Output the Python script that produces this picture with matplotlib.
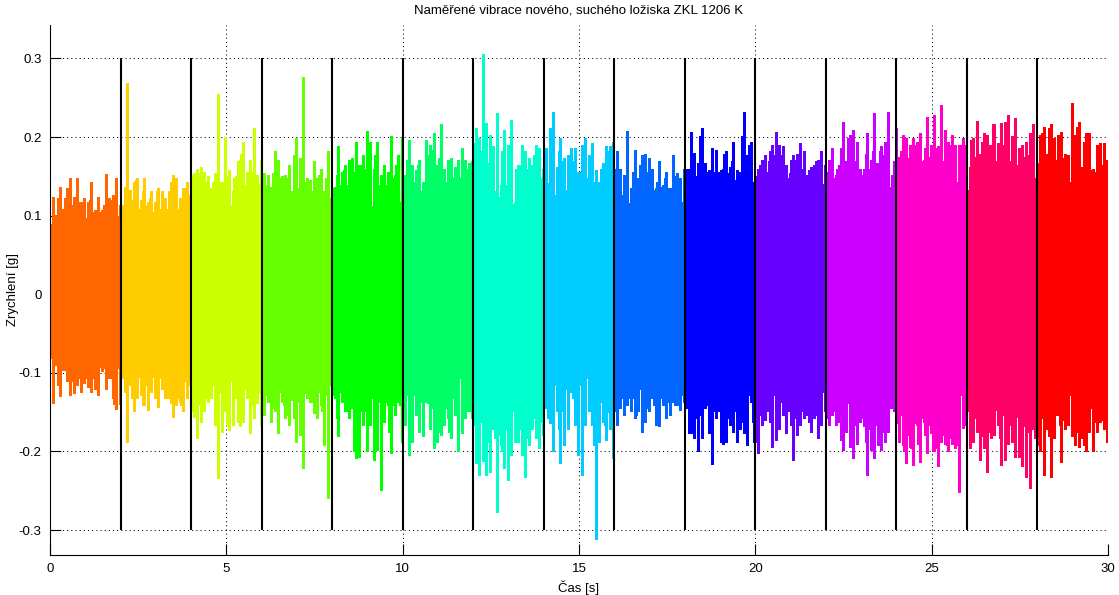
import numpy as np
import matplotlib
matplotlib.use("Agg")
import matplotlib.pyplot as plt

plt.rcParams['font.family'] = ['Liberation Sans', 'DejaVu Sans']

# ---- data ----
title = "Naměřené vibrace nového, suchého ložiska ZKL 1206 K"
xlabel = "Čas [s]"
ylabel = "Zrychlení [g]"

segment_length = 2.0          # s, each recording segment
sample_step = 0.1             # s, spacing of the read envelope values
boundaries = [2, 4, 6, 8, 10, 12, 14, 16, 18, 20, 22, 24, 26, 28]

seg_colors = ['#FF6600', '#FFCC00', '#CCFF00', '#66FF00', '#00FF00',
              '#00FF66', '#00FFCC', '#00CCFF', '#0066FF', '#0000FF',
              '#6600FF', '#CC00FF', '#FF00CC', '#FF0066', '#FF0000']

# dense (solid) band of each segment
core_top = [0.082, 0.090, 0.102, 0.110, 0.112, 0.117, 0.115, 0.117, 0.115, 0.115,
            0.125, 0.131, 0.135, 0.133, 0.135]
core_bot = [-0.076, -0.088, -0.102, -0.105, -0.105, -0.108, -0.112, -0.108, -0.106, -0.110,
            -0.119, -0.125, -0.129, -0.129, -0.129]

# highest positive peak in each 0.1 s interval, per segment
upper = [
    [0.124, 0.101, 0.137, 0.109, 0.135, 0.148, 0.124, 0.148, 0.118, 0.122,
     0.118, 0.143, 0.107, 0.124, 0.107, 0.153, 0.122, 0.126, 0.148, 0.114],
    [0.114, 0.269, 0.133, 0.143, 0.148, 0.120, 0.148, 0.118, 0.131, 0.118,
     0.135, 0.131, 0.122, 0.131, 0.152, 0.148, 0.122, 0.135, 0.143, 0.126],
    [0.154, 0.160, 0.162, 0.156, 0.150, 0.135, 0.154, 0.255, 0.143, 0.200,
     0.158, 0.131, 0.150, 0.171, 0.194, 0.156, 0.171, 0.211, 0.152, 0.171],
    [0.154, 0.152, 0.137, 0.182, 0.171, 0.150, 0.152, 0.165, 0.131, 0.199,
     0.173, 0.277, 0.148, 0.145, 0.169, 0.148, 0.160, 0.131, 0.182, 0.122],
    [0.137, 0.188, 0.156, 0.165, 0.171, 0.173, 0.194, 0.165, 0.177, 0.208,
     0.194, 0.160, 0.194, 0.152, 0.165, 0.156, 0.201, 0.152, 0.177, 0.199],
    [0.152, 0.196, 0.165, 0.158, 0.171, 0.143, 0.196, 0.190, 0.205, 0.165,
     0.217, 0.160, 0.171, 0.173, 0.162, 0.171, 0.186, 0.171, 0.167, 0.169],
    [0.211, 0.199, 0.306, 0.218, 0.203, 0.188, 0.230, 0.139, 0.209, 0.190,
     0.222, 0.118, 0.165, 0.190, 0.182, 0.173, 0.165, 0.190, 0.186, 0.160],
    [0.186, 0.211, 0.232, 0.162, 0.199, 0.173, 0.177, 0.186, 0.186, 0.156,
     0.190, 0.199, 0.177, 0.192, 0.158, 0.143, 0.167, 0.188, 0.188, 0.194],
    [0.182, 0.160, 0.152, 0.208, 0.135, 0.184, 0.148, 0.177, 0.179, 0.173,
     0.160, 0.135, 0.169, 0.139, 0.156, 0.135, 0.177, 0.154, 0.148, 0.160],
    [0.160, 0.207, 0.180, 0.167, 0.211, 0.167, 0.158, 0.186, 0.184, 0.156,
     0.160, 0.182, 0.162, 0.194, 0.158, 0.156, 0.232, 0.177, 0.194, 0.143],
    [0.160, 0.171, 0.177, 0.169, 0.190, 0.207, 0.190, 0.188, 0.165, 0.154,
     0.177, 0.179, 0.192, 0.182, 0.152, 0.162, 0.165, 0.171, 0.182, 0.165],
    [0.171, 0.186, 0.152, 0.165, 0.219, 0.169, 0.203, 0.209, 0.194, 0.160,
     0.160, 0.205, 0.171, 0.230, 0.167, 0.188, 0.194, 0.232, 0.152, 0.211],
    [0.175, 0.203, 0.199, 0.190, 0.199, 0.194, 0.205, 0.171, 0.226, 0.190,
     0.228, 0.188, 0.241, 0.209, 0.194, 0.203, 0.190, 0.190, 0.199, 0.190],
    [0.162, 0.199, 0.220, 0.179, 0.205, 0.203, 0.190, 0.216, 0.192, 0.218,
     0.219, 0.228, 0.201, 0.224, 0.186, 0.190, 0.194, 0.205, 0.217, 0.167],
    [0.203, 0.213, 0.179, 0.217, 0.199, 0.203, 0.207, 0.179, 0.177, 0.243,
     0.203, 0.219, 0.162, 0.205, 0.205, 0.160, 0.190, 0.192, 0.192, 0.171],
]

# a second (lower) positive peak in each 0.1 s interval, per segment
upper2 = [
    [0.090, 0.095, 0.122, 0.103, 0.122, 0.105, 0.114, 0.118, 0.118, 0.105,
     0.097, 0.120, 0.105, 0.101, 0.105, 0.114, 0.118, 0.120, 0.114, 0.100],
    [0.099, 0.137, 0.110, 0.120, 0.146, 0.109, 0.131, 0.114, 0.122, 0.105,
     0.131, 0.108, 0.105, 0.109, 0.143, 0.131, 0.109, 0.118, 0.135, 0.118],
    [0.152, 0.143, 0.154, 0.131, 0.143, 0.092, 0.143, 0.154, 0.143, 0.114,
     0.150, 0.114, 0.148, 0.169, 0.179, 0.139, 0.126, 0.156, 0.122, 0.140],
    [0.152, 0.139, 0.114, 0.154, 0.114, 0.148, 0.139, 0.148, 0.105, 0.177,
     0.135, 0.135, 0.143, 0.143, 0.131, 0.120, 0.152, 0.126, 0.148, 0.115],
    [0.135, 0.152, 0.139, 0.158, 0.139, 0.170, 0.156, 0.148, 0.165, 0.160,
     0.148, 0.101, 0.177, 0.139, 0.131, 0.139, 0.139, 0.148, 0.165, 0.118],
    [0.148, 0.171, 0.097, 0.143, 0.165, 0.131, 0.143, 0.177, 0.184, 0.148,
     0.173, 0.148, 0.143, 0.118, 0.148, 0.131, 0.148, 0.139, 0.160, 0.140],
    [0.192, 0.167, 0.182, 0.154, 0.167, 0.177, 0.131, 0.124, 0.182, 0.139,
     0.167, 0.101, 0.160, 0.165, 0.177, 0.160, 0.148, 0.177, 0.139, 0.148],
    [0.150, 0.141, 0.173, 0.126, 0.182, 0.169, 0.133, 0.173, 0.169, 0.124,
     0.156, 0.160, 0.148, 0.173, 0.143, 0.139, 0.160, 0.152, 0.182, 0.156],
    [0.160, 0.129, 0.126, 0.137, 0.116, 0.156, 0.139, 0.165, 0.139, 0.156,
     0.137, 0.133, 0.143, 0.137, 0.148, 0.135, 0.131, 0.150, 0.143, 0.118],
    [0.148, 0.160, 0.179, 0.150, 0.201, 0.150, 0.156, 0.158, 0.156, 0.152,
     0.158, 0.179, 0.154, 0.169, 0.146, 0.139, 0.201, 0.150, 0.190, 0.140],
    [0.150, 0.165, 0.156, 0.156, 0.182, 0.177, 0.162, 0.177, 0.150, 0.148,
     0.171, 0.171, 0.162, 0.160, 0.139, 0.158, 0.158, 0.169, 0.165, 0.140],
    [0.156, 0.152, 0.148, 0.160, 0.186, 0.169, 0.199, 0.167, 0.169, 0.135,
     0.152, 0.179, 0.160, 0.182, 0.167, 0.182, 0.177, 0.194, 0.137, 0.169],
    [0.150, 0.182, 0.194, 0.173, 0.177, 0.190, 0.194, 0.169, 0.186, 0.175,
     0.165, 0.186, 0.186, 0.169, 0.186, 0.190, 0.179, 0.143, 0.190, 0.165],
    [0.131, 0.196, 0.175, 0.173, 0.194, 0.192, 0.190, 0.216, 0.169, 0.158,
     0.190, 0.188, 0.169, 0.188, 0.165, 0.173, 0.175, 0.177, 0.199, 0.148],
    [0.165, 0.205, 0.173, 0.211, 0.173, 0.171, 0.158, 0.173, 0.165, 0.143,
     0.173, 0.213, 0.150, 0.194, 0.188, 0.158, 0.156, 0.160, 0.165, 0.152],
]

# lowest negative peak in each 0.1 s interval, per segment
lower = [
    [-0.138, -0.090, -0.130, -0.096, -0.111, -0.128, -0.126, -0.115, -0.124, -0.113,
     -0.118, -0.124, -0.120, -0.128, -0.098, -0.120, -0.107, -0.132, -0.146, -0.140],
    [-0.107, -0.188, -0.115, -0.149, -0.132, -0.128, -0.141, -0.147, -0.124, -0.132,
     -0.143, -0.120, -0.132, -0.132, -0.156, -0.141, -0.137, -0.149, -0.132, -0.115],
    [-0.156, -0.183, -0.162, -0.149, -0.137, -0.132, -0.166, -0.234, -0.175, -0.149,
     -0.173, -0.166, -0.132, -0.168, -0.162, -0.132, -0.177, -0.158, -0.139, -0.166],
    [-0.154, -0.137, -0.162, -0.149, -0.177, -0.137, -0.158, -0.166, -0.134, -0.188,
     -0.179, -0.221, -0.132, -0.137, -0.151, -0.158, -0.141, -0.192, -0.259, -0.115],
    [-0.132, -0.181, -0.137, -0.149, -0.158, -0.145, -0.209, -0.207, -0.166, -0.200,
     -0.166, -0.211, -0.198, -0.249, -0.162, -0.141, -0.202, -0.154, -0.137, -0.188],
    [-0.166, -0.205, -0.188, -0.154, -0.175, -0.181, -0.137, -0.171, -0.196, -0.188,
     -0.179, -0.166, -0.158, -0.183, -0.154, -0.199, -0.177, -0.158, -0.149, -0.158],
    [-0.215, -0.230, -0.212, -0.230, -0.226, -0.171, -0.277, -0.192, -0.221, -0.236,
     -0.204, -0.188, -0.188, -0.204, -0.232, -0.192, -0.171, -0.183, -0.196, -0.179],
    [-0.145, -0.164, -0.200, -0.149, -0.215, -0.192, -0.171, -0.124, -0.166, -0.204,
     -0.230, -0.166, -0.149, -0.166, -0.311, -0.188, -0.162, -0.185, -0.171, -0.209],
    [-0.166, -0.145, -0.154, -0.141, -0.149, -0.158, -0.149, -0.175, -0.162, -0.149,
     -0.132, -0.166, -0.168, -0.141, -0.158, -0.154, -0.137, -0.141, -0.147, -0.137],
    [-0.145, -0.177, -0.183, -0.200, -0.183, -0.145, -0.177, -0.216, -0.158, -0.149,
     -0.190, -0.188, -0.166, -0.175, -0.188, -0.171, -0.177, -0.192, -0.137, -0.188],
    [-0.202, -0.166, -0.160, -0.149, -0.194, -0.185, -0.171, -0.154, -0.177, -0.149,
     -0.211, -0.179, -0.166, -0.158, -0.154, -0.175, -0.158, -0.183, -0.166, -0.149],
    [-0.166, -0.154, -0.166, -0.162, -0.198, -0.175, -0.194, -0.209, -0.190, -0.162,
     -0.168, -0.230, -0.198, -0.209, -0.192, -0.198, -0.188, -0.175, -0.145, -0.164],
    [-0.188, -0.192, -0.215, -0.194, -0.217, -0.166, -0.213, -0.162, -0.202, -0.177,
     -0.200, -0.219, -0.188, -0.190, -0.200, -0.190, -0.196, -0.251, -0.170, -0.166],
    [-0.196, -0.188, -0.175, -0.211, -0.196, -0.226, -0.183, -0.179, -0.166, -0.217,
     -0.211, -0.190, -0.188, -0.207, -0.207, -0.219, -0.232, -0.247, -0.171, -0.192],
    [-0.200, -0.230, -0.171, -0.232, -0.183, -0.154, -0.213, -0.171, -0.166, -0.181,
     -0.192, -0.194, -0.183, -0.200, -0.175, -0.200, -0.175, -0.162, -0.171, -0.188],
]

# a second (shallower) negative peak in each 0.1 s interval, per segment
lower2 = [
    [-0.081, -0.085, -0.115, -0.092, -0.096, -0.095, -0.110, -0.107, -0.107, -0.107,
     -0.107, -0.073, -0.107, -0.098, -0.092, -0.094, -0.095, -0.107, -0.140, -0.094],
    [-0.090, -0.124, -0.100, -0.132, -0.124, -0.105, -0.141, -0.115, -0.107, -0.105,
     -0.115, -0.107, -0.115, -0.132, -0.139, -0.110, -0.132, -0.141, -0.110, -0.111],
    [-0.149, -0.132, -0.141, -0.147, -0.132, -0.115, -0.115, -0.141, -0.124, -0.124,
     -0.166, -0.111, -0.115, -0.162, -0.132, -0.120, -0.128, -0.141, -0.132, -0.125],
    [-0.143, -0.128, -0.124, -0.145, -0.137, -0.124, -0.141, -0.154, -0.122, -0.158,
     -0.137, -0.145, -0.126, -0.132, -0.137, -0.128, -0.124, -0.149, -0.128, -0.111],
    [-0.128, -0.158, -0.124, -0.132, -0.149, -0.137, -0.200, -0.149, -0.149, -0.149,
     -0.158, -0.132, -0.198, -0.137, -0.154, -0.137, -0.175, -0.141, -0.137, -0.141],
    [-0.162, -0.128, -0.132, -0.128, -0.149, -0.137, -0.128, -0.139, -0.145, -0.158,
     -0.175, -0.149, -0.145, -0.175, -0.132, -0.154, -0.107, -0.154, -0.149, -0.135],
    [-0.166, -0.192, -0.162, -0.183, -0.188, -0.149, -0.183, -0.179, -0.200, -0.171,
     -0.188, -0.149, -0.175, -0.171, -0.158, -0.183, -0.166, -0.158, -0.158, -0.162],
    [-0.125, -0.158, -0.162, -0.115, -0.171, -0.149, -0.120, -0.124, -0.132, -0.120,
     -0.115, -0.162, -0.101, -0.149, -0.192, -0.180, -0.137, -0.166, -0.150, -0.158],
    [-0.149, -0.120, -0.132, -0.141, -0.132, -0.132, -0.154, -0.120, -0.132, -0.145,
     -0.132, -0.141, -0.132, -0.132, -0.132, -0.137, -0.132, -0.141, -0.122, -0.128],
    [-0.137, -0.177, -0.175, -0.158, -0.154, -0.145, -0.141, -0.149, -0.149, -0.141,
     -0.188, -0.145, -0.158, -0.154, -0.149, -0.154, -0.162, -0.158, -0.128, -0.162],
    [-0.188, -0.154, -0.132, -0.149, -0.162, -0.128, -0.156, -0.137, -0.111, -0.149,
     -0.166, -0.158, -0.147, -0.149, -0.149, -0.162, -0.145, -0.154, -0.154, -0.124],
    [-0.158, -0.141, -0.149, -0.154, -0.185, -0.166, -0.139, -0.175, -0.166, -0.158,
     -0.158, -0.188, -0.171, -0.168, -0.166, -0.183, -0.175, -0.166, -0.145, -0.149],
    [-0.160, -0.154, -0.200, -0.179, -0.196, -0.164, -0.190, -0.158, -0.179, -0.166,
     -0.200, -0.196, -0.185, -0.179, -0.192, -0.183, -0.175, -0.192, -0.124, -0.150],
    [-0.149, -0.177, -0.158, -0.173, -0.181, -0.158, -0.175, -0.149, -0.147, -0.183,
     -0.154, -0.188, -0.166, -0.175, -0.156, -0.179, -0.168, -0.175, -0.165, -0.183],
    [-0.180, -0.158, -0.141, -0.181, -0.162, -0.154, -0.166, -0.160, -0.162, -0.126,
     -0.158, -0.175, -0.149, -0.192, -0.175, -0.145, -0.162, -0.145, -0.160, -0.162],
]

marker_low, marker_high = -0.3, 0.3
xlim = (0, 30)
ylim = (-0.3318, 0.3426)
xticks = [0, 5, 10, 15, 20, 25, 30]
yticks = [-0.3, -0.2, -0.1, 0, 0.1, 0.2, 0.3]
ytick_labels = ['-0.3', '-0.2', '-0.1', '0', '0.1', '0.2', '0.3']

# ---- figure ----
W, H = 1119, 595
fig = plt.figure(figsize=(W / 100, H / 100), dpi=100)
ax = fig.add_axes([50 / W, 40 / H, 1058 / W, 530 / H])

line_w = 0.8
for i, col in enumerate(seg_colors):
    t0 = i * segment_length
    k = np.arange(len(upper[i]))
    t_peak = t0 + sample_step * (k + 0.75)
    t_second = t0 + sample_step * (k + 0.25)
    ax.fill_between([t0, t0 + segment_length], [core_bot[i]] * 2, [core_top[i]] * 2,
                    color=col, linewidth=0, zorder=2, antialiased=False)
    for tt, top in ((t_peak, upper[i]), (t_second, upper2[i])):
        ax.vlines(tt, 0, top, colors=col, linewidth=line_w, zorder=2, antialiased=False)
    for tt, bot in ((t_peak, lower[i]), (t_second, lower2[i])):
        ax.vlines(tt, bot, 0, colors=col, linewidth=line_w, zorder=2, antialiased=False)

ax.vlines(boundaries, marker_low, marker_high, colors='black', linewidth=1.5, zorder=3)

ax.set_xlim(*xlim)
ax.set_ylim(*ylim)
ax.set_xticks(xticks)
ax.set_xticklabels([str(v) for v in xticks])
ax.set_yticks(yticks)
ax.set_yticklabels(ytick_labels)

ax.grid(True, color='black', linestyle=(0, (1, 3)), linewidth=0.75, zorder=0)
ax.set_axisbelow(True)
for s in ['top', 'right']:
    ax.spines[s].set_visible(False)
for s in ['left', 'bottom']:
    ax.spines[s].set_linewidth(0.8)
ax.tick_params(direction='in', length=8, width=0.8, labelsize=9.5, pad=6)

ax.set_title(title, fontsize=9.5, pad=8)
ax.set_xlabel(xlabel, fontsize=9.5, labelpad=4)
ax.set_ylabel(ylabel, fontsize=9.5)
ax.yaxis.set_label_coords(-31 / 1058, 0.5)

fig.savefig("out.png", dpi=100)
